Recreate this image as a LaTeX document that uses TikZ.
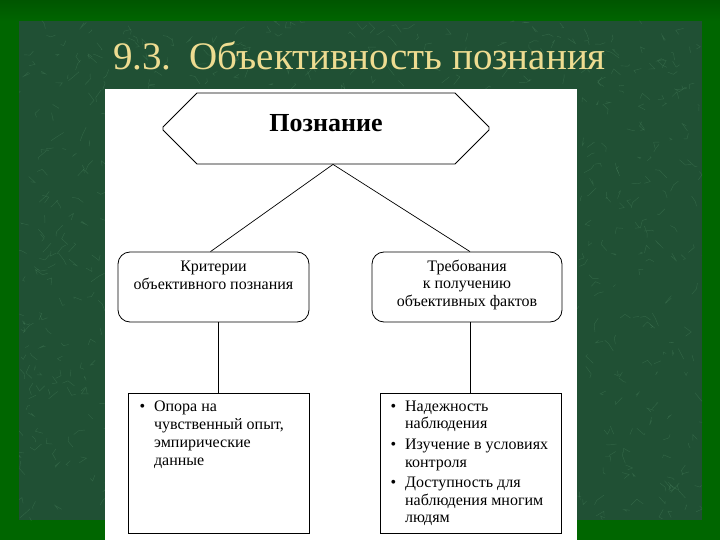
\documentclass[tikz,border=0pt]{standalone}
\usepackage{fontspec}
\setmainfont{Liberation Serif}
\usetikzlibrary{shapes.misc}
\definecolor{outergreen}{RGB}{0,102,0}
\definecolor{marble}{RGB}{32,80,52}
\definecolor{vein}{RGB}{95,155,115}
\definecolor{titlegold}{RGB}{238,220,145}
\tikzset{
  conn/.style={draw=black, line width=0.7pt},
  midbox/.style={draw=black, line width=0.8pt, rounded corners=12pt, inner sep=0pt, fill=white},
  lowbox/.style={draw=black, line width=0.9pt, inner sep=0pt, fill=white},
  veinline/.style={draw=vein, line width=0.45pt, opacity=0.28},
}
\newcommand{\bul}{\textbullet}
\begin{document}
\begin{tikzpicture}[x=1pt,y=-1pt]
\useasboundingbox (0,0) rectangle (720,540);
\fill[outergreen] (0,0) rectangle (720,540);
\fill[marble] (19,21) rectangle (702,520);
\begin{scope}
\clip (19,21) rectangle (702,520);
\pgfmathsetseed{11}
\foreach \i in {1,...,1000}{
  \pgfmathsetmacro{\xa}{19+683*rnd}
  \pgfmathsetmacro{\ya}{21+499*rnd}
  \pgfmathsetmacro{\dx}{-8+16*rnd}
  \pgfmathsetmacro{\dy}{-8+16*rnd}
  \pgfmathsetmacro{\ex}{-6+12*rnd}
  \pgfmathsetmacro{\ey}{-6+12*rnd}
  \draw[veinline] (\xa,\ya) -- ++(\dx,\dy) -- ++(\ex,\ey);
}
\end{scope}
\shade[top color=outergreen!70!black, bottom color=outergreen, opacity=0.5] (0,0) rectangle (720,21);
\fill[white] (105,89) rectangle (577,540);
\node[anchor=base west, text=titlegold, font=\fontsize{39}{41}\selectfont, inner sep=0pt] (title) at (113,70) {9.3.\hspace{5pt} Объективность познания};
\node[chamfered rectangle, chamfered rectangle xsep=21pt, chamfered rectangle ysep=20pt,
      draw=black, line width=0.8pt, minimum width=326pt, minimum height=71pt, inner sep=0pt]
      (top) at (326,128.5) {\raisebox{11pt}{\fontsize{26}{28}\selectfont\bfseries Познание}};
\node[midbox, minimum width=191pt, minimum height=70pt] (crit) at (213.5,287)
  {\parbox[c][66pt][t]{185pt}{\centering\fontsize{16}{18}\selectfont\vspace{7pt}Критерии\\объективного познания}};
\node[midbox, minimum width=190pt, minimum height=70pt] (req) at (467,287)
  {\parbox[c][66pt][t]{185pt}{\centering\fontsize{16}{17.5}\selectfont\vspace{6pt}Требования\\к получению\\объективных фактов}};
\node[lowbox, minimum width=181pt, minimum height=140pt] (opora) at (218.5,463)
  {\parbox[c][134pt][t]{170pt}{\fontsize{16}{18}\selectfont\vspace{3pt}\hspace*{6pt}\begin{tabular}{@{}l@{\hspace{9pt}}l@{}}
  \bul & Опора на\\ & чувственный опыт,\\ & эмпирические\\ & данные\end{tabular}}};
\node[lowbox, minimum width=181pt, minimum height=140pt] (nadezh) at (470.5,463)
  {\parbox[c][134pt][t]{170pt}{\fontsize{16}{17.6}\selectfont\vspace{3pt}\hspace*{5pt}\begin{tabular}{@{}l@{\hspace{9pt}}l@{}}
  \bul & Надежность\\ & наблюдения\\[3pt] \bul & Изучение в условиях\\ & контроля\\[3pt] \bul & Доступность для\\ & наблюдения многим\\ & людям\end{tabular}}};
\draw[conn] ([xshift=7pt]top.south) -- ([xshift=-3pt]crit.north);
\draw[conn] ([xshift=7pt]top.south) -- ([xshift=3pt]req.north);
\draw[conn] ([xshift=5pt]crit.south) -- (opora.north);
\draw[conn] ([xshift=3.5pt]req.south) -- (nadezh.north);
\end{tikzpicture}
\end{document}
